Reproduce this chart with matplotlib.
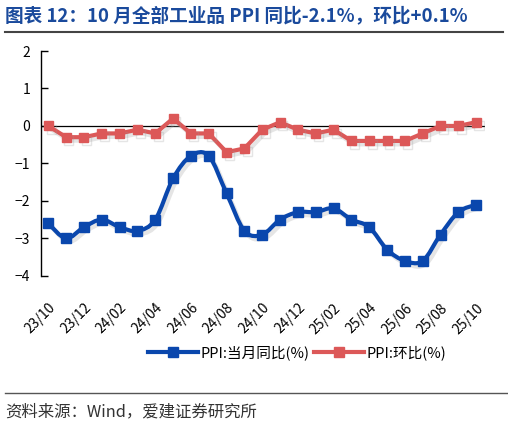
import numpy as np
import matplotlib.pyplot as plt
import matplotlib.patheffects as pe
from matplotlib.path import Path
from matplotlib.patches import PathPatch

plt.rcParams['font.family'] = ['Noto Sans CJK SC', 'DejaVu Sans']

months = ['23/10', '23/11', '23/12', '24/01', '24/02', '24/03', '24/04', '24/05', '24/06',
          '24/07', '24/08', '24/09', '24/10', '24/11', '24/12', '25/01', '25/02', '25/03',
          '25/04', '25/05', '25/06', '25/07', '25/08', '25/09', '25/10']
ppi_yoy = [-2.6, -3.0, -2.7, -2.5, -2.7, -2.8, -2.5, -1.4, -0.8, -0.8, -1.8, -2.8, -2.9,
           -2.5, -2.3, -2.3, -2.2, -2.5, -2.7, -3.3, -3.6, -3.6, -2.9, -2.3, -2.1]
ppi_mom = [0.0, -0.3, -0.3, -0.2, -0.2, -0.1, -0.2, 0.2, -0.2, -0.2, -0.7, -0.6, -0.1,
           0.1, -0.1, -0.2, -0.1, -0.4, -0.4, -0.4, -0.4, -0.2, 0.0, 0.0, 0.1]

blue = '#0a47ad'
red = '#dc5858'
shadow = [pe.SimpleLineShadow(offset=(2, -2.5), shadow_color='#999999', alpha=0.25), pe.Normal()]


def smooth_path(x, y, t=1 / 6):
    # catmull-rom style bezier, like excel "smoothed line"
    x = np.asarray(x, float)
    y = np.asarray(y, float)
    verts = [(x[0], y[0])]
    codes = [Path.MOVETO]
    n = len(x)
    for i in range(n - 1):
        p0 = i - 1 if i > 0 else i
        p3 = i + 2 if i + 2 < n else i + 1
        c1 = (x[i] + (x[i + 1] - x[p0]) * t, y[i] + (y[i + 1] - y[p0]) * t)
        c2 = (x[i + 1] - (x[p3] - x[i]) * t, y[i + 1] - (y[p3] - y[i]) * t)
        verts += [c1, c2, (x[i + 1], y[i + 1])]
        codes += [Path.CURVE4] * 3
    return Path(verts, codes)


fig = plt.figure(figsize=(5.08, 4.25), dpi=100)
ax = fig.add_axes([0.081, 0.351, 0.874, 0.529])

xs = np.arange(len(months))
ax.axhline(0, color='black', lw=0.9, zorder=1)

patch = PathPatch(smooth_path(xs, ppi_yoy), facecolor='none', edgecolor=blue, lw=3.0,
                  zorder=3, path_effects=shadow)
ax.add_patch(patch)
ax.plot(xs, ppi_yoy, ls='none', marker='s', ms=6.5, color=blue, zorder=4)
l1, = ax.plot([], [], color=blue, lw=3.0, marker='s', ms=6.5)

ax.plot(xs, ppi_mom, color=red, lw=3.0, marker='s', ms=6.5, zorder=3,
        solid_joinstyle='round', path_effects=shadow)
l2, = ax.plot([], [], color=red, lw=3.0, marker='s', ms=6.5)

ax.set_xlim(-0.4, 24.5)
ax.set_ylim(-4, 2)
ax.set_yticks(range(-4, 3))
ax.tick_params(axis='y', direction='in', length=5, width=1, labelsize=10, pad=8)
ax.set_xticks(xs[::2])
ax.set_xticklabels(months[::2], rotation=45, ha='right', rotation_mode='anchor', fontsize=10)
ax.tick_params(axis='x', length=0, pad=18)
for s in ['top', 'right', 'bottom']:
    ax.spines[s].set_visible(False)
ax.spines['left'].set_linewidth(1.0)

fig.legend([l1, l2], ['PPI:当月同比(%)', 'PPI:环比(%)'], loc='center', bbox_to_anchor=(0.585, 0.171),
           ncol=2, frameon=False, fontsize=10.5, handlelength=3.4, columnspacing=0.3, handletextpad=0.2)

fig.text(0.01, 0.962, '图表 12：10 月全部工业品 PPI 同比-2.1%，环比+0.1%', color='#1a4a9c',
         fontsize=13.4, fontweight='bold', va='center')
fig.add_artist(plt.Line2D([0.01, 0.99], [0.925, 0.925], color='#444444', lw=1.5))
fig.add_artist(plt.Line2D([0.01, 1.0], [0.075, 0.075], color='#555555', lw=1.0))
fig.text(0.01, 0.032, '资料来源：Wind，爱建证券研究所', color='#333333', fontsize=11.8, va='center')

fig.savefig('out.png', dpi=100)
